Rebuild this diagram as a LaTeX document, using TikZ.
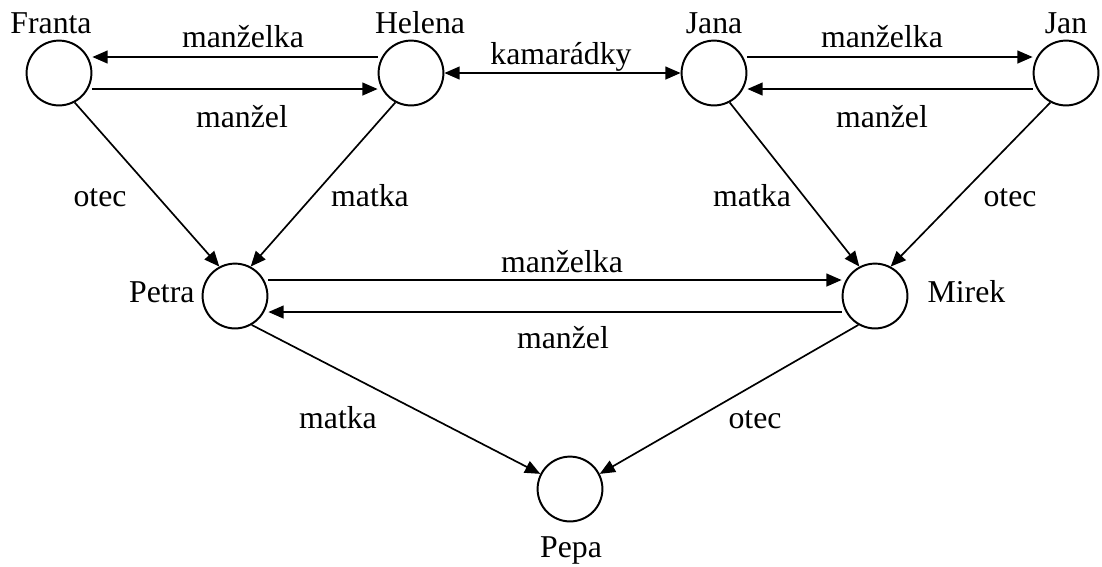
\documentclass[tikz,border=0pt]{standalone}
\usepackage{fontspec}
\setmainfont{Liberation Serif}
\usetikzlibrary{arrows.meta}

\begin{document}
\begin{tikzpicture}[x=0.0125cm, y=-0.0125cm,
    hrot/.tip={Triangle[length=1.9mm, width=1.6mm]},
    osoba/.style={draw, circle, line width=0.7pt, minimum size=0.81cm, inner sep=0pt},
    popis/.style={font=\fontsize{11.3}{13}\selectfont, anchor=base, inner sep=0pt},
    vztah/.style={line width=0.6pt, -hrot}]
    \useasboundingbox (0,0) rectangle (1102,566);

    % 1. OSOBY (kruhy)
    \node[osoba] (franta) at (59,73) {};
    \node[osoba] (helena) at (411,73) {};
    \node[osoba] (jana) at (714,73) {};
    \node[osoba] (jan) at (1066,73) {};
    \node[osoba] (petra) at (235,296) {};
    \node[osoba] (mirek) at (875,296) {};
    \node[osoba] (pepa) at (570,489) {};

    % Jmena
    \node[popis] (franta_name) at (51,33) {Franta};
    \node[popis] (helena_name) at (420,33) {Helena};
    \node[popis] (jana_name) at (714,33) {Jana};
    \node[popis] (jan_name) at (1066,33) {Jan};
    \node[popis, anchor=base east] (petra_name) at (195,302) {Petra};
    \node[popis, anchor=base west] (mirek_name) at (927,302) {Mirek};
    \node[popis] (pepa_name) at (571,557) {Pepa};

    % 2. MANZELE NAHORE
    \draw[vztah] ([yshift=2mm]helena.west) -- ([yshift=2mm]franta.east);
    \draw[vztah] ([yshift=-2mm]franta.east) -- ([yshift=-2mm]helena.west);
    \node[popis] (fh_manzelka) at (243,47) {manželka};
    \node[popis] (fh_manzel) at (242,127) {manžel};

    \draw[vztah] ([yshift=2mm]jana.east) -- ([yshift=2mm]jan.west);
    \draw[vztah] ([yshift=-2mm]jan.west) -- ([yshift=-2mm]jana.east);
    \node[popis] (jj_manzelka) at (882,47) {manželka};
    \node[popis] (jj_manzel) at (882,127) {manžel};

    % Kamaradky
    \draw[vztah, hrot-hrot] (helena.east) -- (jana.west);
    \node[popis] (kamaradky) at (561,64) {kamarádky};

    % 3. RODICE PETRY A MIRKA
    \draw[vztah] (franta.-62) -- (petra.118);
    \draw[vztah] (helena.-118) -- (petra.62);
    \draw[vztah] (jana.-62) -- (mirek.118);
    \draw[vztah] (jan.-118) -- (mirek.62);
    \node[popis] (fp_otec) at (100,206) {otec};
    \node[popis] (hp_matka) at (370,206) {matka};
    \node[popis] (jm_matka) at (752,206) {matka};
    \node[popis] (jm_otec) at (1010,206) {otec};

    % 4. PETRA A MIREK
    \draw[vztah] ([yshift=2mm]petra.east) -- ([yshift=2mm]mirek.west);
    \draw[vztah] ([yshift=-2mm]mirek.west) -- ([yshift=-2mm]petra.east);
    \node[popis] (pm_manzelka) at (562,272) {manželka};
    \node[popis] (pm_manzel) at (563,348) {manžel};

    % 5. PEPA
    \draw[vztah] (petra.-60) -- (pepa.153);
    \draw[vztah] (mirek.-120) -- (pepa.27);
    \node[popis] (pp_matka) at (338,428) {matka};
    \node[popis] (mp_otec) at (755,428) {otec};

\end{tikzpicture}
\end{document}
